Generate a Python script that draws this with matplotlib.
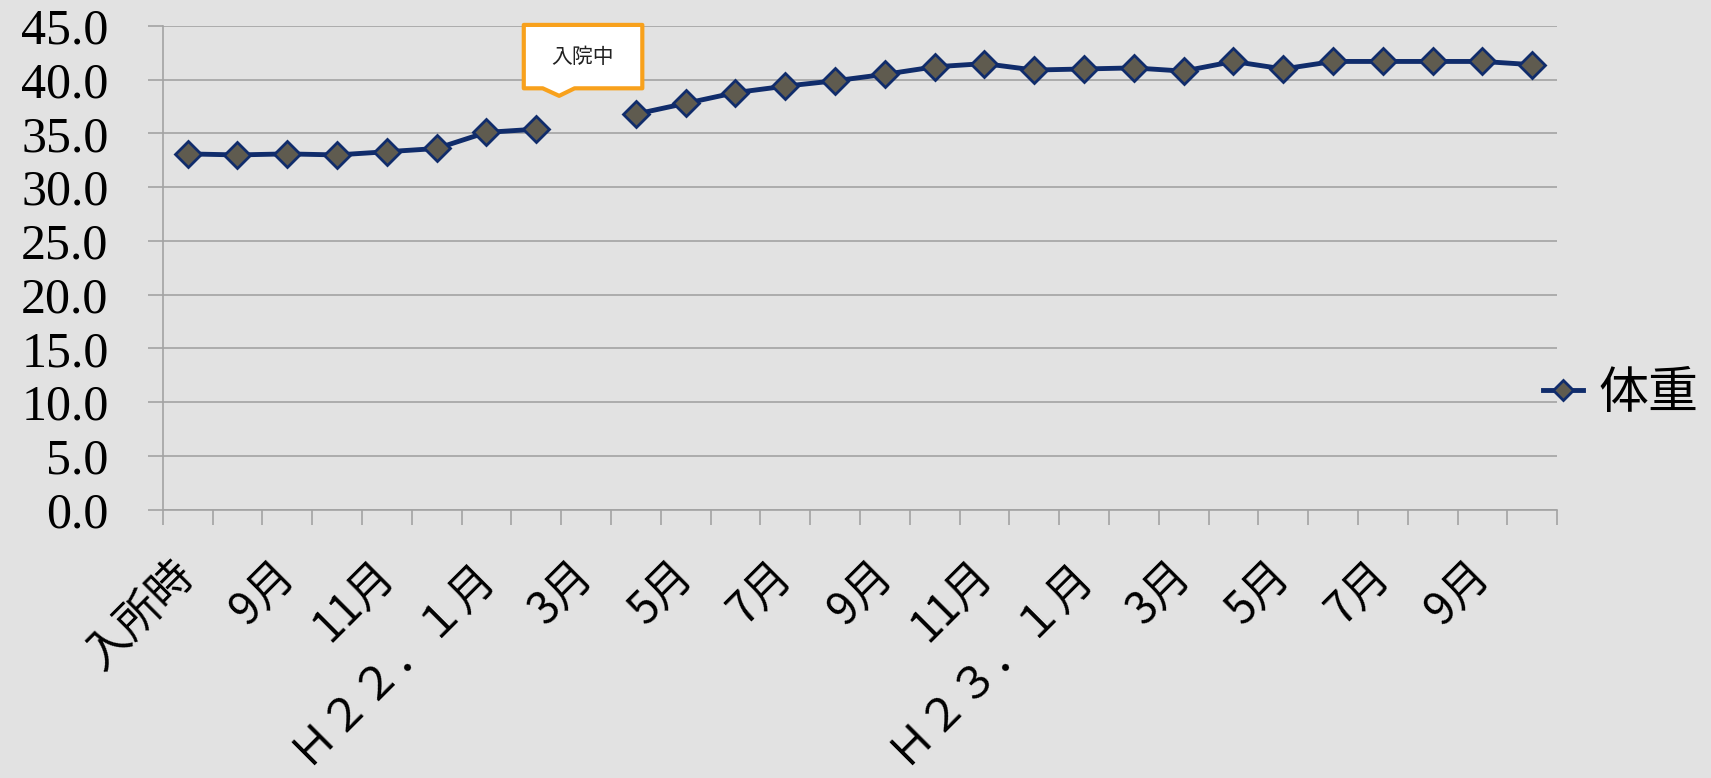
import numpy as np
import matplotlib
matplotlib.use('Agg')
import matplotlib.pyplot as plt
import matplotlib.transforms as mtransforms
from matplotlib.patches import Polygon

# ---- data ----
months = ['入所時', '8月', '9月', '10月', '11月', '12月', 'Ｈ２２．１月', '2月',
          '3月', '4月', '5月', '6月', '7月', '8月', '9月', '10月', '11月', '12月',
          'Ｈ２３．１月', '2月', '3月', '4月', '5月', '6月', '7月', '8月', '9月', '10月']
weight = [33.1, 33.0, 33.1, 33.0, 33.3, 33.6, 35.1, 35.4,
          np.nan, 36.8, 37.8, 38.8, 39.4, 39.9, 40.5, 41.2, 41.5, 40.9,
          41.0, 41.1, 40.8, 41.7, 41.0, 41.7, 41.7, 41.7, 41.7, 41.4]
series_name = '体重'
note_text = '入院中'
y_ticks = np.arange(0, 50, 5)

# ---- style ----
bg = '#E2E2E2'
line_c = '#102C6B'
face_c = '#5F5B4F'
grid_c = '#A3A3A3'
orange = '#F8A11C'
cjk = ['Noto Sans CJK JP', 'DejaVu Sans']

fig = plt.figure(figsize=(17.11, 7.78), dpi=100, facecolor=bg)
ax = fig.add_axes([0.0951, 0.345, 0.815, 0.6216])
ax.set_facecolor(bg)

x = np.arange(len(months))
ax.plot(x, weight, color=line_c, lw=3.5, marker='D', ms=13,
        mfc=face_c, mec=line_c, mew=2, label=series_name, zorder=3)

ax.set_xlim(-0.5, len(months) - 0.5)
ax.set_ylim(0, 45)

# y axis
ax.set_yticks(y_ticks)
ax.set_yticklabels([f'{v:.1f}' for v in y_ticks], fontfamily='Liberation Serif', fontsize=36)
ax.yaxis.grid(True, color=grid_c, lw=1.2)
ax.tick_params(axis='y', length=11, width=1.2, color=grid_c, pad=28)

# x axis: tick marks at category boundaries, labels at every other category
ax.set_xticks(np.arange(-0.5, len(months)))
ax.set_xticklabels([])
ax.tick_params(axis='x', which='major', length=11, width=1.2, color=grid_c)
ax.set_xticks(x[::2], minor=True)
ax.set_xticklabels(months[::2], minor=True, rotation=45, ha='right', va='top',
                   rotation_mode='anchor', fontfamily=cjk, fontsize=32)
ax.tick_params(axis='x', which='minor', length=0, pad=30)
shift = mtransforms.ScaledTranslation(-12 / 72, 0, fig.dpi_scale_trans)
for lab in ax.get_xticklabels(minor=True):
    lab.set_transform(lab.get_transform() + shift)

for s in ['top', 'right']:
    ax.spines[s].set_visible(False)
for s in ['left', 'bottom']:
    ax.spines[s].set_color(grid_c)
    ax.spines[s].set_linewidth(1.2)
ax.set_axisbelow(True)

# callout for the missing month
gap = int(np.where(np.isnan(weight))[0][0])
bl, br, bt, bb = gap - 1.25, gap + 1.13, 45.1, 39.2
tip_x, tip_y = gap - 0.54, 38.5
pts = [(bl, bt), (br, bt), (br, bb), (tip_x + 0.31, bb), (tip_x, tip_y),
       (tip_x - 0.33, bb), (bl, bb)]
ax.add_patch(Polygon(pts, closed=True, facecolor='white', edgecolor=orange,
                     lw=3, joinstyle='round', clip_on=False, zorder=5))
ax.text((bl + br) / 2, (bt + bb) / 2, note_text, ha='center', va='center',
        fontsize=15, family=cjk, color='#222222', zorder=6)

# legend
leg = ax.legend(loc='center left', bbox_to_anchor=(0.902, 0.4936),
                bbox_transform=fig.transFigure, frameon=False,
                prop={'family': cjk, 'size': 36}, handlelength=0.8,
                handletextpad=0.3, borderpad=0, borderaxespad=0, markerscale=0.8)

fig.savefig('out.png', dpi=100, facecolor=bg)
